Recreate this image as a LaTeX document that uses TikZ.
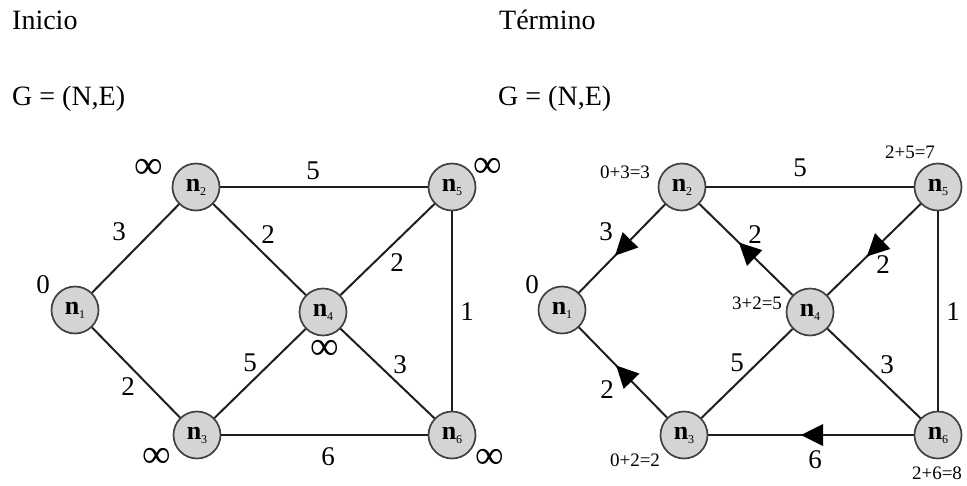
\documentclass[tikz,border=0pt]{standalone}
\usepackage{fontspec}
\setmainfont{Liberation Serif}
\usetikzlibrary{decorations.markings}
\newcommand{\nd}[1]{{\fontsize{26}{26}\selectfont\bfseries n}\raisebox{-4pt}{\fontsize{12}{12}\selectfont #1}}
\tikzset{
  vtx/.style={circle, draw=black!75, line width=1.7pt, fill=black!17, minimum size=47pt, inner sep=0pt},
  edg/.style={draw=black!88, line width=2pt},
  wt/.style={font=\fontsize{27}{27}\selectfont, inner sep=0pt},
  inf/.style={font=\fontsize{40}{40}\selectfont, inner sep=0pt},
  sm/.style={font=\fontsize{19}{19}\selectfont, inner sep=0pt},
  ttl/.style={font=\fontsize{28}{28}\selectfont, inner sep=0pt, anchor=base west},
  arr/.style={postaction={decorate}, decoration={markings, mark=at position 0.5 with {\fill[black] (10pt,0pt) -- (-12pt,11pt) -- (-12pt,-11pt) -- cycle;}}}
}
\begin{document}
\begin{tikzpicture}[x=1pt,y=-1pt]
\useasboundingbox (0,0) rectangle (967,485);
% titles
\node[ttl] (t1) at (12,29) {Inicio};
\node[ttl] (g1) at (12,105) {G = (N,E)};
\node[ttl] (t2) at (499,29) {Término};
\node[ttl] (g2) at (498,105) {G = (N,E)};
% left graph nodes
\node[vtx] (a1) at (75,310) {\nd{1}};
\node[vtx] (a2) at (196,187) {\nd{2}};
\node[vtx] (a3) at (197,435) {\nd{3}};
\node[vtx] (a4) at (323,312) {\nd{4}};
\node[vtx] (a5) at (452,187) {\nd{5}};
\node[vtx] (a6) at (452,435) {\nd{6}};
% left edges
\draw[edg] (a1) -- (a2);
\draw[edg] (a2) -- (a5);
\draw[edg] (a2) -- (a4);
\draw[edg] (a4) -- (a5);
\draw[edg] (a5) -- (a6);
\draw[edg] (a1) -- (a3);
\draw[edg] (a3) -- (a4);
\draw[edg] (a4) -- (a6);
\draw[edg] (a3) -- (a6);
% left labels
\node[wt] (la12) at (119,232) {3};
\node[wt] (la25) at (313,171) {5};
\node[wt] (la24) at (268,235) {2};
\node[wt] (la45) at (397,263) {2};
\node[wt] (la56) at (467,312) {1};
\node[wt] (la13) at (128,387) {2};
\node[wt] (la34) at (250,363) {5};
\node[wt] (la46) at (400,365) {3};
\node[wt] (la36) at (328,457) {6};
\node[wt] (d1) at (43,285) {0};
\node[inf] (d2) at (149,169) {∞};
\node[inf] (d5) at (488,168) {∞};
\node[inf] (d4) at (325,350) {∞};
\node[inf] (d3) at (157,458) {∞};
\node[inf] (d6) at (490,459) {∞};
% right graph nodes
\node[vtx] (b1) at (562,310) {\nd{1}};
\node[vtx] (b2) at (682,187) {\nd{2}};
\node[vtx] (b3) at (684,435) {\nd{3}};
\node[vtx] (b4) at (810,312) {\nd{4}};
\node[vtx] (b5) at (938,187) {\nd{5}};
\node[vtx] (b6) at (938,435) {\nd{6}};
% right edges
\draw[edg, arr] (b2) -- (b1);
\draw[edg] (b2) -- (b5);
\draw[edg, arr] (b4) -- (b2);
\draw[edg, arr] (b5) -- (b4);
\draw[edg] (b5) -- (b6);
\draw[edg, arr] (b3) -- (b1);
\draw[edg] (b3) -- (b4);
\draw[edg] (b4) -- (b6);
\draw[edg, arr] (b6) -- (b3);
% right labels
\node[wt] (lb12) at (606,232) {3};
\node[wt] (lb25) at (800,168) {5};
\node[wt] (lb24) at (755,235) {2};
\node[wt] (lb45) at (883,265) {2};
\node[wt] (lb56) at (953,312) {1};
\node[wt] (lb13) at (607,390) {2};
\node[wt] (lb34) at (737,363) {5};
\node[wt] (lb46) at (887,365) {3};
\node[wt] (lb36) at (815,460) {6};
\node[wt] (e1) at (532,285) {0};
\node[sm] (e2) at (625,172) {0+3=3};
\node[sm] (e5) at (910,152) {2+5=7};
\node[sm] (e4) at (757,303) {3+2=5};
\node[sm] (e3) at (635,460) {0+2=2};
\node[sm] (e6) at (937,473) {2+6=8};
\end{tikzpicture}
\end{document}
